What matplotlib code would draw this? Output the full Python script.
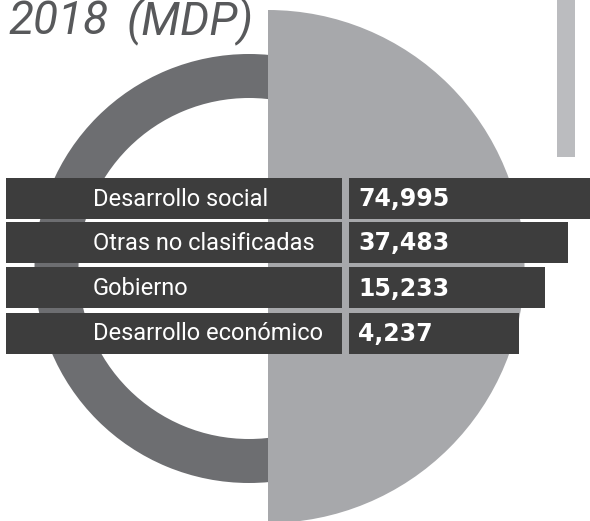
import matplotlib.pyplot as plt
from matplotlib.patches import Wedge

# Data
categories = ["Desarrollo social", "Otras no clasificadas", "Gobierno", "Desarrollo económico"]
values = [74995, 37483, 15233, 4237]
title = "2018 (MDP)"

# Layout (pixel coordinates, y down)
W, H = 590, 521
row_y = [198, 242.5, 287.5, 333]
row_h = 41
label_left, label_right = 6, 342
value_left = 349
value_right = [600, 568, 545, 519]   # decorative steps, not to scale

DARK = "#3d3d3d"
RING = "#6d6e71"
HALF = "#a7a8ab"
SIDE = "#bbbcbf"

def main():
    fig = plt.figure(figsize=(W / 100, H / 100), dpi=100)
    ax = fig.add_axes([0, 0, 1, 1])
    ax.set_xlim(0, W)
    ax.set_ylim(H, 0)
    ax.axis("off")

    # Ring on the left, half disc on the right
    ax.add_patch(Wedge((249, 268.5), 214.5, 0, 360, width=44, color=RING, lw=0))
    ax.add_patch(Wedge((268, 266.5), 256.5, -90, 90, color=HALF, lw=0))

    # Side bar at top right
    ax.bar(566, 157, width=18, bottom=0, color=SIDE, lw=0)

    # Label boxes and value boxes
    ax.barh(row_y, label_right - label_left, left=label_left, height=row_h,
            color=DARK, lw=0)
    ax.barh(row_y, [r - value_left for r in value_right], left=value_left,
            height=row_h, color=DARK, lw=0)

    for y, cat, v in zip(row_y, categories, values):
        ax.text(93, y + 1, cat, color="white", fontsize=17, family="Roboto",
                va="center", ha="left")
        ax.text(358, y + 1, f"{v:,}", color="white", fontsize=17,
                family="DejaVu Sans", weight="bold", va="center", ha="left")

    # Title, cut at the top edge like the source
    year, unit = title.split(" ")
    tkw = dict(color="#58595b", fontsize=33, family="Roboto", style="italic",
               va="baseline", ha="left")
    ax.text(8, 34, year, **tkw)
    ax.text(127, 34, unit, **tkw)

    fig.savefig("out.png", dpi=100)

main()
